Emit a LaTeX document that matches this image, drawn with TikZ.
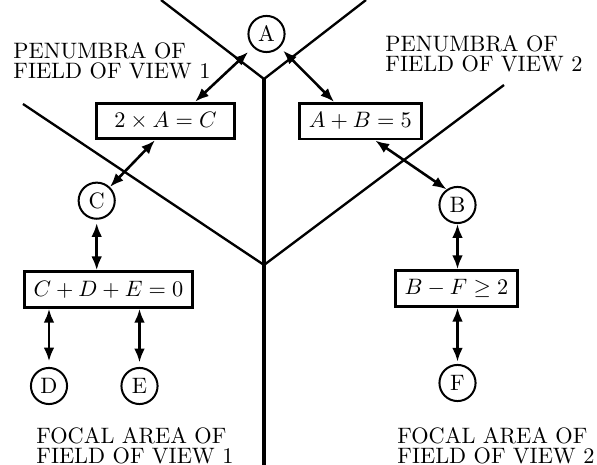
\documentclass[tikz,border=0pt]{standalone}
\usetikzlibrary{arrows.meta,calc}
\begin{document}
\begin{tikzpicture}[x=0.4484pt,y=-0.4484pt,
  field/.style={line width=1.05pt},
  stem/.style={line width=1.35pt},
  eqbox/.style={draw,line width=1.3pt,minimum height=16pt,inner sep=0pt},
  var/.style={draw,circle,line width=0.9pt,minimum size=16.2pt,inner sep=0pt},
  dbl/.style={{Latex[length=6.2pt,width=4.8pt]}-{Latex[length=6.2pt,width=4.8pt]},line width=1.15pt},
  lbl/.style={align=left,inner sep=0pt,anchor=north west,font=\fontsize{10pt}{9pt}\selectfont}]
\useasboundingbox (0,0) rectangle (597,465);
% field-of-view boundaries
\coordinate (tl) at (161,0);
\coordinate (tr) at (366,0);
\coordinate (v1) at (264,79);
\coordinate (bl) at (23,104);
\coordinate (br) at (504,85);
\coordinate (v2) at (264,265);
\coordinate (bot) at (264,465);
\draw[field] (tl) -- (v1) -- (tr);
\draw[field] (bl) -- (v2) -- (br);
\draw[stem] (v1) -- (bot);
% variables
\node[var] (A) at (266.5,34) {A};
\node[var] (C) at (96.7,200.7) {C};
\node[var] (B) at (457.5,205) {B};
\node[var] (F) at (457.5,383) {F};
\node[var] (D) at (49,386) {D};
\node[var] (E) at (139.5,386) {E};
% constraints
\node[eqbox,minimum width=61.9pt] (e1) at (165.5,121) {$2\times A=C$};
\node[eqbox,minimum width=54.6pt] (e2) at (360.3,121.2) {$A+B=5$};
\node[eqbox,minimum width=75.3pt] (e3) at (108.5,289.5) {$C+D+E=0$};
\node[eqbox,minimum width=54.7pt] (e4) at (456.5,288.5) {$B-F\geq 2$};
% connectors
\draw[dbl,shorten <=3pt] (A.225) -- ($(e1.north west)!0.71!(e1.north east)$);
\draw[dbl,shorten <=2pt] (A.-45) -- ($(e2.north west)!0.29!(e2.north east)$);
\draw[dbl] ($(e1.south west)!0.425!(e1.south east)$) -- (C);
\draw[dbl] ($(e2.south west)!0.62!(e2.south east)$) -- (B.125);
\draw[dbl,shorten <=1.5pt] (C) -- (C |- e3.north);
\draw[dbl,shorten >=2.5pt] (D |- e3.south) -- (D);
\draw[dbl,shorten >=2pt] (E |- e3.south) -- (E);
\draw[dbl] (B) -- (B |- e4.north);
\draw[dbl,shorten >=1pt] (F |- e4.south) -- (F);
% labels
\node[lbl] (p1) at (13,41.7) {PENUMBRA OF\\FIELD OF VIEW 1};
\node[lbl] (p2) at (385,35) {PENUMBRA OF\\FIELD OF VIEW 2};
\node[lbl] (f1) at (36,426.7) {FOCAL AREA OF\\FIELD OF VIEW 1};
\node[lbl] (f2) at (397,427) {FOCAL AREA OF\\FIELD OF VIEW 2};
\end{tikzpicture}
\end{document}
